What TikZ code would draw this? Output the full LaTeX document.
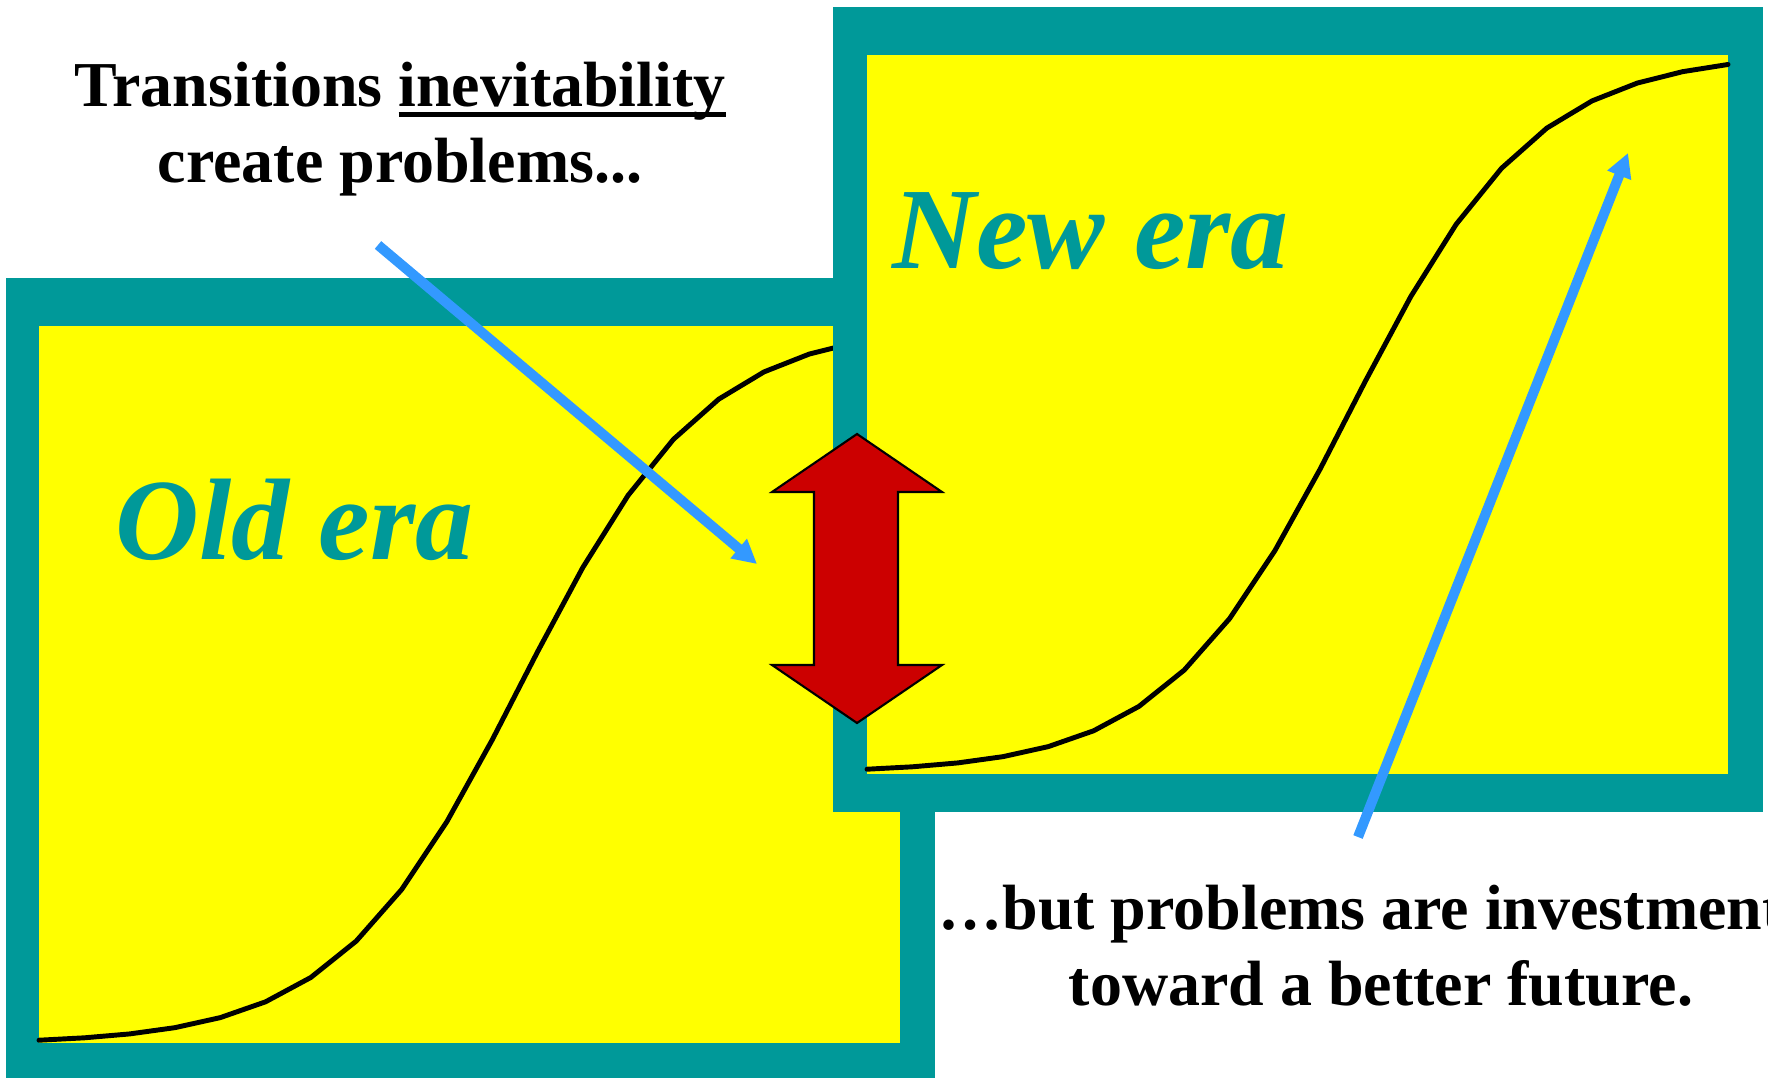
\documentclass[tikz,border=0pt]{standalone}
\usepackage{fontspec}
\setmainfont{Liberation Serif}
\usepackage{tikz}
\usetikzlibrary{arrows.meta}
\definecolor{frameteal}{HTML}{009999}
\definecolor{paneyellow}{HTML}{FFFF00}
\definecolor{arrowblue}{HTML}{3399FF}
\definecolor{swapred}{HTML}{CC0000}
\newcommand{\ulword}[1]{\setbox0\hbox{#1}\rlap{\rule[-0.17em]{\wd0}{0.09em}}\box0}

\begin{document}
\begin{tikzpicture}[
  frame/.style={fill=frameteal},
  pane/.style={fill=paneyellow},
  scurve/.style={line width=1.4pt, line join=round, line cap=round},
  era/.style={anchor=base west, inner sep=0pt, text=frameteal, font=\fontsize{33pt}{40pt}\selectfont\bfseries\itshape},
  caption/.style={anchor=north, inner sep=0pt, align=center, font=\fontsize{18.2pt}{21.6pt}\selectfont\bfseries},
  arr/.style={-{Triangle[length=2.4mm, width=2.4mm]}, line width=1mm, draw=arrowblue},
  swap/.style={draw=black, line width=0.6pt, fill=swapred, line join=miter}
]
\useasboundingbox (0,0) rectangle (17.68,-10.77);
\clip (0,0) rectangle (17.68,-10.77);
\fill[frame] (0.06,-2.78) rectangle (9.35,-10.83);
\fill[pane] (0.39,-3.26) rectangle (9.00,-10.43);
\draw[scurve] plot[domain=0:8.61, samples=20] ({0.39+\x}, {-3.26-7.18+7.2/(1+exp(-(\x-4.82)/0.92))});
\fill[frame] (8.33,-0.07) rectangle (17.63,-8.12);
\fill[pane] (8.67,-0.55) rectangle (17.28,-7.74);
\draw[scurve] plot[domain=0:8.61, samples=20] ({8.67+\x}, {-0.55-7.18+7.2/(1+exp(-(\x-4.82)/0.92))});
\node[era] (old) at (1.15,-5.59) {Old era};
\node[era] (new) at (8.92,-2.68) {New era};
\node[caption] (cost) at (4.0,-0.615) {Transitions \ulword{inevitability}\\create problems...};
\node[caption] (gain) at (13.81,-8.84) {…but problems are investments\hspace*{0.15cm}\\toward a better future.};
\draw[swap] (8.57,-4.34) -- (9.42,-4.92) -- (8.98,-4.92) -- (8.98,-6.65) -- (9.42,-6.65)
  -- (8.57,-7.23) -- (7.72,-6.65) -- (8.14,-6.65) -- (8.14,-4.92) -- (7.72,-4.92) -- cycle;
\coordinate (costtail) at (3.78,-2.45);
\coordinate (costtip) at (7.57,-5.64);
\coordinate (gaintail) at (13.58,-8.37);
\coordinate (gaintip) at (16.28,-1.53);
\draw[arr] (costtail) -- (costtip);
\draw[arr] (gaintail) -- (gaintip);
\end{tikzpicture}
\end{document}
